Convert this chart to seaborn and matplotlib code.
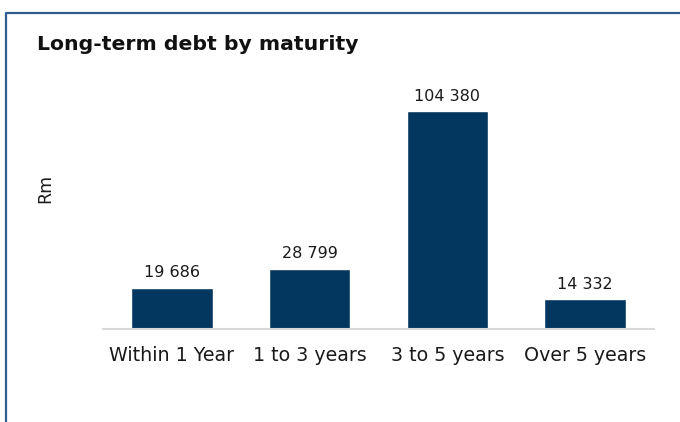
import matplotlib
matplotlib.use("Agg")
import matplotlib.pyplot as plt
from matplotlib.lines import Line2D
import seaborn as sns
import pandas as pd

categories = ["Within 1 Year", "1 to 3 years", "3 to 5 years", "Over 5 years"]
values = [19686, 28799, 104380, 14332]
title = "Long-term debt by maturity"
ylabel = "Rm"

sns.set_theme(style="white")
plt.rcParams['font.family'] = ['DejaVu Sans']

df = pd.DataFrame({"cat": categories, "val": values})
W, H = 680, 422
fig = plt.figure(figsize=(6.8, 4.22), dpi=100)
ax = fig.add_axes([103 / W, 1 - 329 / H, (654 - 103) / W, (329 - 80) / H])

bar_color = "#04375f"
sns.barplot(data=df, x="cat", y="val", hue="cat", palette=[bar_color] * 4,
            width=0.59, legend=False, ax=ax, saturation=1)

ymax = max(values) * 249 / 218
ax.set_ylim(0, ymax)
ax.set_xlim(-0.5, 3.5)

for i, v in enumerate(values):
    ax.text(i, v + ymax * 0.03, f"{v:,}".replace(",", " "), ha="center", va="bottom",
            fontsize=11.5, color="#1a1a1a")

for s in ["top", "right", "left"]:
    ax.spines[s].set_visible(False)
ax.spines["bottom"].set_color("#d9d9d9")
ax.spines["bottom"].set_linewidth(1.5)
ax.set_yticks([])
ax.set_xlabel("")
ax.set_ylabel("")
ax.tick_params(axis="x", length=0, labelsize=13.7, colors="#1a1a1a", pad=12)

fig.text(37 / W, 1 - 45 / H, title, fontsize=14.7, fontweight="bold", color="#111111",
         ha="left", va="center")
fig.text(45 / W, 1 - 188 / H, ylabel, fontsize=12.5, rotation=90, ha="center", va="center",
         color="#1a1a1a")

x0 = 5.5 / W
y0 = 1 - 12.5 / H
fig.add_artist(Line2D([x0, x0, 1.0], [0.0, y0, y0], transform=fig.transFigure,
                      color="#2f5d8f", linewidth=1.6))

fig.savefig("out.png", dpi=100)
